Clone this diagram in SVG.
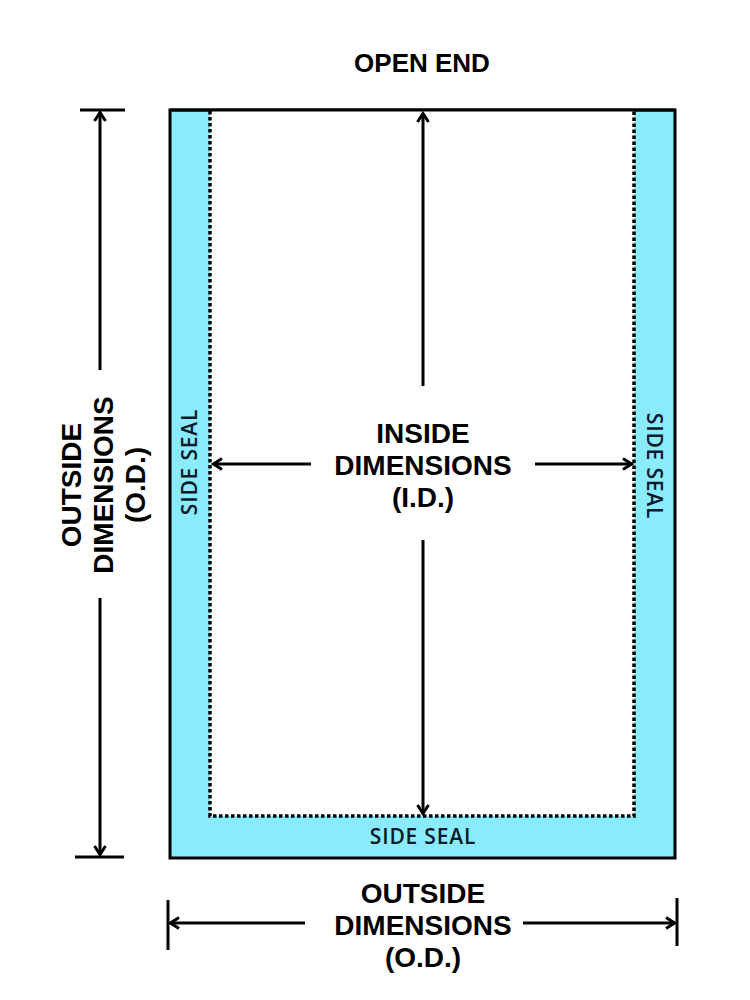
<svg xmlns="http://www.w3.org/2000/svg" width="750" height="1000" viewBox="0 0 750 1000">
<style>
.lbl{font-family:"Liberation Sans",Arial,sans-serif;font-weight:700;font-size:28px;fill:#000;text-anchor:middle}
.seal{font-family:"Open Sans","Liberation Sans",sans-serif;font-weight:600;font-size:21px;letter-spacing:0.8px;fill:#0a1a2a;text-anchor:middle}
.ln{stroke:#000;stroke-width:3;fill:none}
</style>
<defs>
<marker id="ah" viewBox="0 0 14 14" refX="12" refY="7" markerWidth="14" markerHeight="14" markerUnits="userSpaceOnUse" orient="auto">
<path d="M3,1.5 L11.5,7 L3,12.5" fill="none" stroke="#000" stroke-width="3"/>
</marker>
</defs>
<rect width="750" height="1000" fill="#fff"/>
<g id="bag">
<rect x="170" y="110" width="505" height="748" fill="#8aebfd" stroke="#000" stroke-width="3"/>
<path d="M210,111 L210,816 L634,816 L634,111 Z" fill="#fff"/>
<path d="M210,111 L210,816 L634,816 L634,111" fill="none" stroke="#000" stroke-width="3.5" stroke-dasharray="3.5 2.5"/>
<line x1="170" y1="110" x2="675" y2="110" stroke="#000" stroke-width="3"/>
</g>
<g id="labels">
<text id="open-end" class="lbl" x="422" y="72" style="font-size:26px">OPEN END</text>
<text id="inside-dim" class="lbl" x="423" y="443">INSIDE<tspan x="423" dy="32">DIMENSIONS</tspan><tspan x="423" dy="32">(I.D.)</tspan></text>
<text id="outside-dim-bottom" class="lbl" x="423" y="903">OUTSIDE<tspan x="423" dy="32">DIMENSIONS</tspan><tspan x="423" dy="32">(O.D.)</tspan></text>
<text id="outside-dim-left" class="lbl" transform="translate(103,485) rotate(-90)" x="0" y="-22">OUTSIDE<tspan x="0" dy="32">DIMENSIONS</tspan><tspan x="0" dy="32">(O.D.)</tspan></text>
<text id="seal-left" class="seal" transform="translate(197,462) rotate(-90)">SIDE SEAL</text>
<text id="seal-right" class="seal" transform="translate(647,466) rotate(90)">SIDE SEAL</text>
<text id="seal-bottom" class="seal" x="423" y="844">SIDE SEAL</text>
</g>
<g id="connectors">
<line class="ln" x1="80" y1="110" x2="125" y2="110"/>
<line class="ln" x1="75" y1="857" x2="124" y2="857"/>
<line class="ln" x1="100" y1="370" x2="100" y2="112" marker-end="url(#ah)"/>
<line class="ln" x1="100" y1="598" x2="100" y2="855" marker-end="url(#ah)"/>
<line class="ln" x1="168" y1="900" x2="168" y2="950"/>
<line class="ln" x1="677" y1="898" x2="677" y2="946"/>
<line class="ln" x1="305" y1="923" x2="170" y2="923" marker-end="url(#ah)"/>
<line class="ln" x1="523" y1="923" x2="675" y2="923" marker-end="url(#ah)"/>
<line class="ln" x1="423" y1="386" x2="423" y2="113" marker-end="url(#ah)"/>
<line class="ln" x1="423" y1="540" x2="423" y2="814" marker-end="url(#ah)"/>
<line class="ln" x1="311" y1="464" x2="213" y2="464" marker-end="url(#ah)"/>
<line class="ln" x1="535" y1="464" x2="632" y2="464" marker-end="url(#ah)"/>
</g>
</svg>
